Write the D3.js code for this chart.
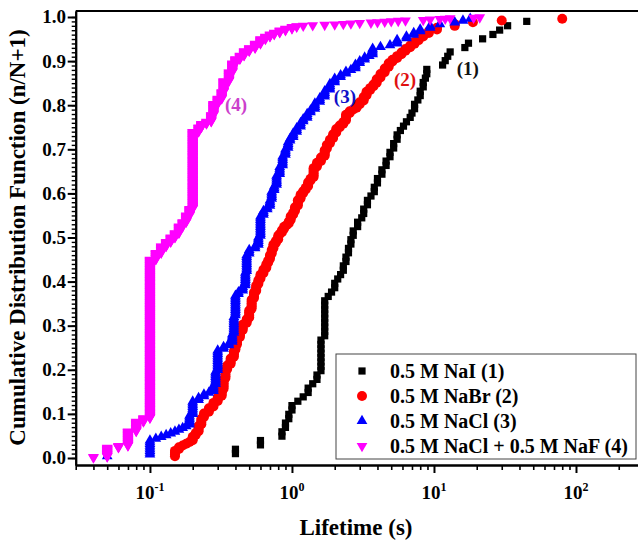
<!DOCTYPE html>
<html>
<head>
<meta charset="utf-8">
<script src="https://cdn.jsdelivr.net/npm/d3@7"></script>
<style>
  html, body { margin: 0; padding: 0; background: #fff; }
  svg { display: block; font-family: "Liberation Serif", "Times New Roman", serif; font-weight: bold; }
</style>
</head>
<body>
<svg id="chart" width="638" height="543"></svg>
<script>
// Lifetimes (s) observed for each electrolyte, with the number of events at each lifetime.
const naiLifetimes = [0.4,0.6,0.85,0.9,0.95,1.0,1.1,1.2,1.3,1.4,1.5,1.6,1.7,1.8,1.9,2.0,2.1,2.2,2.3,2.4,2.5,2.6,2.7,2.9,3.1,3.2,3.4,3.6,3.8,4.0,4.3,4.6,4.9,5.2,5.5,5.8,6.1,6.4,6.8,7.0,7.3,7.7,8.0,8.4,8.7,8.9,11.5,12.0,12.5,13.0,16.5,17.5,22,26,29,33,45];
const naiCounts    = [2,2,2,2,2,2,1,1,2,1,2,8,9,1,1,2,1,1,2,2,2,2,2,2,1,2,2,1,2,2,2,2,2,2,2,1,1,1,1,1,2,1,2,2,1,2,1,1,1,1,1,1,1,1,1,1,1];

const nabrLifetimes = [0.15,0.16,0.17,0.18,0.19,0.2,0.21,0.22,0.23,0.24,0.26,0.28,0.3,0.32,0.33,0.34,0.35,0.37,0.39,0.4,0.41,0.43,0.45,0.48,0.5,0.52,0.54,0.56,0.58,0.6,0.63,0.66,0.68,0.7,0.72,0.74,0.77,0.8,0.82,0.85,0.88,0.92,0.95,0.98,1.02,1.05,1.1,1.15,1.2,1.25,1.3,1.35,1.42,1.5,1.6,1.7,1.76,1.85,1.95,2.05,2.17,2.3,2.4,2.55,2.7,2.85,3.0,3.2,3.35,3.55,3.75,3.95,4.2,4.5,4.8,5.1,5.5,5.9,6.3,6.8,7.3,7.8,8.4,9.2,10.5,14,18.8,30,80];
const nabrCounts    = [4,2,1,1,1,3,2,4,4,3, 3,3,3,4,6,5,3,4,4,3, 4,4,4,3,5,6,4,4,3,3, 3,3,2,3,3,3,2,3,1,2, 2,1,2,3,2,3,4,3,2,2, 3,2,6,3,3,4,3,3,3,3, 2,2,4,2,1,2,2,3,3,2, 2,3,3,3,3,2,2,2,2,2, 2,2,2,2,2,2,1,1,1];

const naclLifetimes = [0.05,0.1,0.11,0.12,0.13,0.14,0.15,0.16,0.17,0.18,0.19,0.2,0.22,0.24,0.26,0.28,0.29,0.3,0.33,0.36,0.38,0.39,0.4,0.42,0.45,0.47,0.48,0.5,0.55,0.58,0.6,0.63,0.67,0.7,0.72,0.75,0.78,0.82,0.86,0.9,0.94,0.97,1.02,1.08,1.15,1.2,1.28,1.35,1.45,1.57,1.7,1.85,2.0,2.2,2.4,2.6,2.8,3.0,3.25,3.5,3.7,4.2,4.9,5.5,6.4,7.2,8.0,9.4,11,14,16,18];
const naclCounts    = [1,9, 1,1,1,1,1,1,1,1,6,8, 2,2,1,4,8,12, 2,2,5,10,12,2,3,8,10,3, 2,5,12,3,2,4,5,3,6,5, 6,4,4,2,3,3,3,2,3,2, 4,3,4,4,3,2,2,1,3,2, 2,1,4,1,1,3,2,2,2,2, 1,1,1,1];

const naclNafLifetimes = [0.04,0.05,0.06,0.07,0.08,0.09,0.1,0.11,0.12,0.13,0.14,0.15,0.16,0.17,0.18,0.19,0.2,0.22,0.23,0.25,0.27,0.28,0.3,0.32,0.33,0.36,0.38,0.4,0.43,0.46,0.5,0.55,0.6,0.65,0.7,0.75,0.82,0.9,1.0,1.08,1.2,1.4,1.7,2.0,2.3,2.6,3.0,3.6,4.0,4.5,5.0,5.6,6.3,8.4,9.4,11,12,13,19,21];
const naclNafCounts    = [2,21,4,33,22,8,360, 15,15,10,10,10,15,10,15,15,175, 10,8,5,15,25,12,15,25,20,20, 10,8,10,7,10,10,6,5,4,5, 4,4,2,1,1,1,1,1,1,1, 1,1,1,1,1,1,1,1,1,1, 1,1,1];

const seriesNames  = ["0.5 M NaI (1)", "0.5 M NaBr (2)", "0.5 M NaCl (3)", "0.5 M NaCl + 0.5 M NaF (4)"];
const curveLabels  = ["(1)", "(2)", "(3)", "(4)"];
// where each curve label sits, in data units (lifetime, CDF)
const labelLifetimes = [17.3, 6.25, 2.36, 0.404];
const labelCdf       = [0.883, 0.858, 0.819, 0.801];

const xMajorTicks = [0.1, 1, 10, 100];
const xTickExponents = ["-1", "0", "1", "2"];
const yMajorTicks = [0.0, 0.1, 0.2, 0.3, 0.4, 0.5, 0.6, 0.7, 0.8, 0.9, 1.0];
const yTickLabels = ["0.0","0.1","0.2","0.3","0.4","0.5","0.6","0.7","0.8","0.9","1.0"];

// ---- styles ----
const colors  = ["#000000", "#ff0000", "#0000ff", "#ff00ff"];
const labelColors = ["#111111", "#e01010", "#1010c8", "#cc40cc"];
const symbols = [
  d3.symbol().type(d3.symbolSquare).size(52),
  d3.symbol().type(d3.symbolCircle).size(78),
  d3.symbol().type(d3.symbolTriangle).size(50),
  d3.symbol().type(d3.symbolTriangle).size(50)
];
const rotations = [0, 0, 0, 180];

const svg = d3.select("#chart");
const x = d3.scaleLog().domain([0.03, 1000]).range([75.7, 718]);
const y = d3.scaleLinear().domain([-0.0159, 1.0136]).range([465, 11]);

// cumulative distribution n/(N+1) from lifetimes + event counts
function cdfPoints(lifetimes, counts) {
  const N = d3.sum(counts);
  const pts = [];
  let n = 0;
  lifetimes.forEach((t, i) => {
    for (let k = 0; k < counts[i]; k++) {
      n += 1;
      pts.push({ t: t, f: n / (N + 1) });
    }
  });
  return pts;
}

const series = [
  cdfPoints(naiLifetimes, naiCounts),
  cdfPoints(nabrLifetimes, nabrCounts),
  cdfPoints(naclLifetimes, naclCounts),
  cdfPoints(naclNafLifetimes, naclNafCounts)
];

// ---- axes ----
const x0 = x.range()[0], x1 = x.range()[1];
const yTop = y.range()[1], yBot = y.range()[0];

// frame top edge
svg.append("line")
  .attr("x1", x0).attr("x2", x1).attr("y1", yTop).attr("y2", yTop)
  .attr("stroke", "#000").attr("stroke-width", 2);

const xMinor = x.ticks().filter(v => !xMajorTicks.some(m => Math.abs(m - v) / m < 1e-6));

function styleAxis(g, w) {
  g.select(".domain").attr("stroke", "#000").attr("stroke-width", 2);
  g.selectAll(".tick line").attr("stroke", "#000").attr("stroke-width", w);
  g.selectAll(".tick text").remove();
}

const gxMinor = svg.append("g").attr("transform", `translate(0,${yBot})`)
  .call(d3.axisBottom(x).tickValues(xMinor).tickSize(5).tickSizeOuter(0).tickFormat(""));
styleAxis(gxMinor, 1.6);
const gxMajor = svg.append("g").attr("transform", `translate(0,${yBot})`)
  .call(d3.axisBottom(x).tickValues(xMajorTicks).tickSize(8).tickSizeOuter(0).tickFormat(""));
styleAxis(gxMajor, 2);

const yMinor = d3.range(0, 101).map(i => i / 100);
const gyMinor = svg.append("g").attr("transform", `translate(${x0},0)`)
  .call(d3.axisLeft(y).tickValues(yMinor).tickSize(4).tickSizeOuter(0).tickFormat(""));
styleAxis(gyMinor, 1.4);
const gyMajor = svg.append("g").attr("transform", `translate(${x0},0)`)
  .call(d3.axisLeft(y).tickValues(yMajorTicks).tickSize(8).tickSizeOuter(0).tickFormat(""));
styleAxis(gyMajor, 2);

// x tick labels as powers of ten
xMajorTicks.forEach((v, i) => {
  const t = svg.append("text")
    .attr("x", x(v)).attr("y", 499)
    .attr("text-anchor", "middle")
    .attr("font-size", 19).attr("fill", "#000");
  t.append("tspan").text("10");
  t.append("tspan").attr("font-size", 12).attr("dy", -8).text(xTickExponents[i]);
});

// y tick labels
yMajorTicks.forEach((v, i) => {
  svg.append("text")
    .attr("x", 66).attr("y", y(v) + 6.5)
    .attr("text-anchor", "end")
    .attr("font-size", 19).attr("fill", "#000")
    .text(yTickLabels[i]);
});

// axis titles
svg.append("text")
  .attr("x", 356).attr("y", 535)
  .attr("text-anchor", "middle").attr("font-size", 23).attr("fill", "#000")
  .text("Lifetime (s)");
svg.append("text")
  .attr("transform", `translate(25,${(y(0) + y(1)) / 2}) rotate(-90)`)
  .attr("text-anchor", "middle").attr("font-size", 23).attr("fill", "#000")
  .text("Cumulative Distribution Function (n/N+1)");

// ---- data markers ----
series.forEach((pts, i) => {
  svg.append("g")
    .selectAll("path")
    .data(pts)
    .join("path")
    .attr("d", symbols[i])
    .attr("transform", d => `translate(${x(d.t)},${y(d.f)}) rotate(${rotations[i]})`)
    .attr("fill", colors[i]);
});

// curve labels
curveLabels.forEach((lab, i) => {
  svg.append("text")
    .attr("x", x(labelLifetimes[i])).attr("y", y(labelCdf[i]))
    .attr("dy", "0.35em")
    .attr("text-anchor", "middle").attr("font-size", 19)
    .attr("fill", labelColors[i])
    .text(lab);
});

// ---- legend ----
const legend = svg.append("g").attr("transform", "translate(336,354)");
legend.append("rect")
  .attr("width", 300).attr("height", 105)
  .attr("fill", "#fff").attr("stroke", "#444").attr("stroke-width", 1);
seriesNames.forEach((name, i) => {
  const cy = 17 + i * 25;
  legend.append("path")
    .attr("d", symbols[i])
    .attr("transform", `translate(26,${cy}) rotate(${rotations[i]})`)
    .attr("fill", colors[i]);
  legend.append("text")
    .attr("x", 54).attr("y", cy + 7)
    .attr("font-size", 20).attr("fill", "#000")
    .text(name);
});
</script>
</body>
</html>
